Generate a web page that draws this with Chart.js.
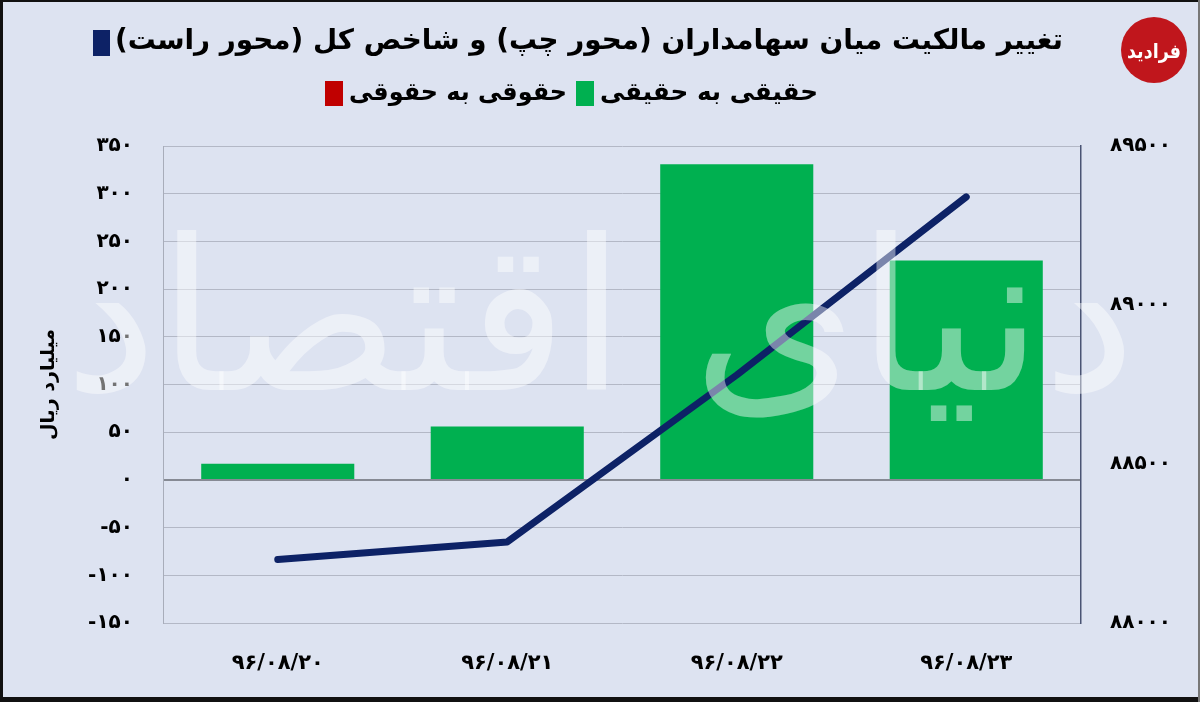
<!DOCTYPE html>
<html>
<head>
<meta charset="utf-8">
<script src="https://cdn.jsdelivr.net/npm/chart.js@4.4.1/dist/chart.umd.min.js"></script>
<style>
html,body{margin:0;padding:0;background:#dde3f1;}
#wrap{position:relative;width:1200px;height:702px;}
</style>
</head>
<body>
<div id="wrap"><canvas id="c"></canvas></div>
<script>
// ---- data ----
const categories = ['۹۶/۰۸/۲۰', '۹۶/۰۸/۲۱', '۹۶/۰۸/۲۲', '۹۶/۰۸/۲۳'];
const realToReal = [17, 56, 331, 230];        // حقیقی به حقیقی (left axis)
const legalToLegal = [0, 0, 0, 0];            // حقوقی به حقوقی (left axis)
const totalIndex = [88200, 88255, 88780, 89340]; // شاخص کل (right axis)

const titleLine = 'تغییر مالکیت میان سهامداران (محور چپ) و شاخص کل (محور راست)';
const labelReal = 'حقیقی به حقیقی';
const labelLegal = 'حقوقی به حقوقی';
const yTitle = 'میلیارد ریال';
const watermark = 'دنیای اقتصاد';

const FA = '۰۱۲۳۴۵۶۷۸۹';
const toFa = v => String(v).replace(/\d/g, d => FA[d]);

const FONT = '"DejaVu Sans", sans-serif';
const BG = '#dde3f1';
const GREEN = '#00b050', RED = '#c00000', NAVY = '#0d2266';

const deco = {
  id: 'deco',
  beforeDraw(chart) {
    const ctx = chart.ctx;
    ctx.save();
    ctx.fillStyle = BG;
    ctx.fillRect(0, 0, chart.width, chart.height);
    ctx.restore();
  },
  afterDatasetsDraw(chart) {
    const ctx = chart.ctx;
    ctx.save();
    ctx.direction = 'rtl';
    ctx.font = '210px ' + FONT;
    ctx.textAlign = 'center';
    ctx.textBaseline = 'middle';
    ctx.fillStyle = 'rgba(255,255,255,0.45)';
    ctx.fillText(watermark, 600, 335, 1130);
    ctx.restore();
  },
  afterDraw(chart) {
    const ctx = chart.ctx;
    const ds = chart.data.datasets;
    ctx.save();
    ctx.direction = 'rtl';
    ctx.textBaseline = 'middle';
    ctx.textAlign = 'right';
    // row 1: line series
    ctx.font = 'bold 28px ' + FONT;
    let w = Math.min(ctx.measureText(ds[0].label).width, 948);
    ctx.fillStyle = '#000';
    ctx.fillText(ds[0].label, 1063, 42, 948);
    ctx.fillStyle = ds[0].borderColor;
    ctx.fillRect(1063 - w - 22, 30, 17, 26);
    // row 2
    ctx.font = 'bold 25px ' + FONT;
    const items = [[ds[1], 818], [ds[2], 567]];
    for (const [d, xr] of items) {
      const tw = Math.min(ctx.measureText(d.label).width, 218);
      ctx.fillStyle = '#000';
      ctx.fillText(d.label, xr, 93, 218);
      ctx.fillStyle = d.backgroundColor;
      ctx.fillRect(xr - tw - 24, 81, 18, 25);
    }
    ctx.restore();

    // logo
    ctx.save();
    ctx.fillStyle = '#c0161c';
    ctx.beginPath();
    ctx.arc(1154, 50, 33, 0, Math.PI * 2);
    ctx.fill();
    ctx.direction = 'rtl';
    ctx.fillStyle = '#fff';
    ctx.font = 'bold 20px ' + FONT;
    ctx.textAlign = 'center';
    ctx.textBaseline = 'middle';
    ctx.fillText('فرادید', 1154, 53, 54);
    ctx.restore();

    // frame
    ctx.save();
    ctx.fillStyle = '#111';
    ctx.fillRect(0, 0, 3, 702);
    ctx.fillRect(0, 0, 1200, 2);
    ctx.fillRect(0, 697, 1200, 5);
    ctx.fillStyle = '#777';
    ctx.fillRect(1198, 0, 2, 702);
    ctx.restore();
  }
};

new Chart(document.getElementById('c'), {
  data: {
    labels: categories,
    datasets: [
      {
        type: 'line', label: titleLine, data: totalIndex, yAxisID: 'y1',
        borderColor: NAVY, backgroundColor: NAVY, borderWidth: 7,
        borderCapStyle: 'round', borderJoinStyle: 'round',
        pointRadius: 0, tension: 0, order: 0
      },
      {
        type: 'bar', label: labelReal, data: realToReal, yAxisID: 'y',
        backgroundColor: GREEN, stack: 's', order: 1,
        categoryPercentage: 1, barPercentage: 0.667
      },
      {
        type: 'bar', label: labelLegal, data: legalToLegal, yAxisID: 'y',
        backgroundColor: RED, stack: 's', order: 1,
        categoryPercentage: 1, barPercentage: 0.667
      }
    ]
  },
  options: {
    responsive: true,
    maintainAspectRatio: false,
    animation: false,
    layout: { padding: { top: 146, left: 0, right: 0, bottom: 0 } },
    plugins: { legend: { display: false }, title: { display: false }, tooltip: { enabled: false } },
    scales: {
      x: {
        stacked: true,
        grid: { display: false, drawTicks: false },
        border: { display: false },
        ticks: { color: '#000', font: { family: FONT, size: 21, weight: 'bold' }, padding: 28, maxRotation: 0 },
        afterFit: s => { s.height = 79; }
      },
      y: {
        stacked: true,
        position: 'left',
        min: -150, max: 350,
        ticks: {
          stepSize: 50, color: '#000', padding: 30,
          font: { family: FONT, size: 20, weight: 'bold' },
          callback: v => toFa(v)
        },
        grid: {
          drawTicks: false,
          color: c => (c.tick && c.tick.value === 0) ? '#868a94' : '#b3b8c6',
          lineWidth: c => (c.tick && c.tick.value === 0) ? 2 : 1
        },
        border: { display: true, color: '#a8adba', width: 1 },
        title: {
          display: true, text: yTitle, color: '#000',
          font: { family: FONT, size: 19, weight: 'bold' },
          padding: { top: 38, bottom: 0 }
        },
        afterFit: s => { s.width = 163; }
      },
      y1: {
        position: 'right',
        min: 88000, max: 89500,
        ticks: {
          stepSize: 500, color: '#000', padding: 29,
          font: { family: FONT, size: 20, weight: 'bold' },
          callback: v => toFa(v)
        },
        grid: { display: false, drawTicks: false },
        border: { display: true, color: '#4a5474', width: 1.5 },
        afterFit: s => { s.width = 119; }
      }
    }
  },
  plugins: [deco]
});
</script>
</body>
</html>
